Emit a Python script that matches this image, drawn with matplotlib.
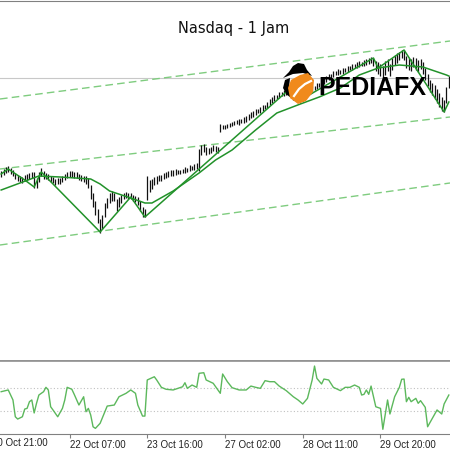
import numpy as np
import matplotlib.pyplot as plt
from matplotlib.patches import Polygon
from matplotlib.lines import Line2D

# hourly bars, index 0..190
high = [11558, 11562, 11566, 11568, 11564, 11560, 11554, 11550, 11548, 11546,
        11550, 11552, 11554, 11556, 11556, 11544, 11556, 11564, 11558, 11554,
        11552, 11548, 11546, 11542, 11544, 11544, 11548, 11552, 11556, 11558,
        11558, 11556, 11556, 11552, 11550, 11548, 11548, 11544, 11530, 11514,
        11498, 11482, 11462, 11470, 11494, 11504, 11514, 11518, 11514, 11502,
        11506, 11510, 11514, 11516, 11514, 11514, 11510, 11508, 11506, 11498,
        11486, 11482, 11548, 11540, 11542, 11546, 11548, 11550, 11550, 11554,
        11556, 11558, 11560, 11560, 11562, 11560, 11560, 11562, 11566, 11564,
        11570, 11568, 11572, 11574, 11602, 11610, 11612, 11606, 11604, 11606,
        11610, 11608, 11606, 11652, 11650, 11650, 11652, 11654, 11656, 11658,
        11660, 11662, 11662, 11666, 11668, 11672, 11676, 11678, 11682, 11682,
        11686, 11690, 11690, 11696, 11702, 11706, 11710, 11710, 11716, 11716,
        11720, 11722, 11720, 11716, 11712, 11710, 11708, 11706, 11710, 11714,
        11720, 11724, 11728, 11728, 11734, 11734, 11740, 11744, 11748, 11752,
        11752, 11758, 11758, 11762, 11760, 11764, 11764, 11768, 11768, 11772,
        11772, 11776, 11778, 11776, 11780, 11782, 11784, 11786, 11784, 11778,
        11776, 11772, 11768, 11778, 11782, 11772, 11784, 11790, 11794, 11796,
        11800, 11800, 11788, 11784, 11782, 11786, 11784, 11780, 11782, 11776,
        11764, 11752, 11740, 11734, 11730, 11722, 11714, 11706, 11700, 11726, 11748]
low = [11546, 11550, 11554, 11556, 11552, 11548, 11542, 11538, 11536, 11534,
       11538, 11540, 11542, 11544, 11524, 11524, 11536, 11548, 11542, 11542,
       11540, 11536, 11534, 11530, 11532, 11532, 11536, 11540, 11544, 11546,
       11546, 11544, 11544, 11540, 11538, 11536, 11532, 11524, 11502, 11486,
       11470, 11454, 11434, 11442, 11466, 11484, 11494, 11498, 11498, 11478,
       11486, 11494, 11502, 11504, 11502, 11502, 11498, 11496, 11490, 11478,
       11466, 11466, 11500, 11516, 11522, 11530, 11532, 11538, 11538, 11542,
       11544, 11546, 11548, 11548, 11550, 11552, 11552, 11554, 11554, 11556,
       11558, 11560, 11560, 11562, 11558, 11590, 11596, 11590, 11592, 11594,
       11598, 11596, 11594, 11636, 11642, 11642, 11644, 11646, 11648, 11650,
       11652, 11650, 11654, 11654, 11656, 11660, 11664, 11666, 11670, 11674,
       11674, 11678, 11682, 11684, 11690, 11694, 11698, 11702, 11704, 11708,
       11708, 11710, 11708, 11704, 11700, 11698, 11696, 11694, 11698, 11702,
       11708, 11712, 11716, 11720, 11722, 11726, 11728, 11732, 11736, 11740,
       11744, 11746, 11750, 11750, 11752, 11752, 11756, 11756, 11760, 11760,
       11764, 11764, 11766, 11768, 11768, 11770, 11772, 11774, 11768, 11758,
       11752, 11748, 11744, 11750, 11758, 11748, 11760, 11770, 11774, 11780,
       11784, 11780, 11764, 11760, 11758, 11766, 11760, 11756, 11762, 11752,
       11740, 11728, 11716, 11710, 11702, 11694, 11686, 11678, 11676, 11694, 11724]
last_price = 11744

# zigzag turning points
zz_bar = [0, 3, 10, 14, 17, 42, 55, 61, 121, 127, 158, 160, 171, 188, 190]
zz_val = [11552, 11562, 11540, 11526, 11556, 11436, 11506, 11466, 11716, 11700,
          11784, 11764, 11800, 11676, 11696]

# moving average
ma_bar = [0, 8, 16, 25, 38, 42, 46, 55, 61, 64, 73, 84, 91, 98, 108, 117, 127,
          135, 144, 152, 160, 169, 179, 189, 190]
ma_val = [11520, 11534, 11548, 11546, 11542, 11532, 11518, 11504, 11494, 11494,
          11518, 11554, 11580, 11600, 11640, 11674, 11692, 11706, 11724, 11750,
          11764, 11770, 11766, 11750, 11748]

# channel trend lines (start / end of chart)
chan_bar = [-0.5, 190.5]
chan_upper = [11702, 11818]
chan_mid = [11562, 11666]
chan_lower = [11410, 11534]

# oscillator (CCI-like)
osc_bar = [0, 3, 5, 6, 7, 9, 10, 11, 12, 13, 14, 15, 16, 18, 19, 20, 21, 22, 24, 26,
           27, 28, 30, 31, 33, 35, 36, 37, 38, 39, 40, 42, 45, 48, 50, 53, 55, 57, 58, 60,
           61, 62, 65, 66, 68, 70, 73, 77, 78, 79, 81, 83, 84, 86, 87, 90, 93, 94, 96, 98,
           101, 104, 106, 108, 110, 112, 114, 116, 118, 121, 124, 126, 128, 130, 132, 133,
           134, 136, 137, 139, 141, 144, 146, 148, 150, 152, 153, 154, 155, 156, 157, 159,
           161, 162, 164, 165, 167, 169, 170, 171, 172, 173, 174, 176, 177, 178, 180, 181,
           183, 185, 187, 188, 190]
osc_val = [68, 83, -4, -150, -170, -150, -83, -77, -19, -4, -117, -33, 39, 68, 106, 83, -63, -91, -150, -77,
           -4, 106, 89, 45, -48, 24, -106, -77, -135, -237, -251, -207, -57, -48, 24, 54, 83, 54, -48, -144,
           -144, 170, 198, 170, 106, 89, 83, 111, 146, 97, 126, 106, 228, 233, 170, 141, 54, 222, 155, 103,
           83, 83, 117, 106, 97, 164, 155, 155, 117, 77, 24, -4, -39, 10, 170, 291,
           184, 135, 178, 170, 106, 77, 106, 106, 126, 106, 39, 45, 83, 45, 117, -63,
           -77, -259, -4, -126, 24, 106, 176, 178, -19, 19, -19, 10, -33, -10, -68, -237,
           -164, -91, -126, -39, 39]
osc_levels = [100, -100]

tick_bar = [-4, 29, 62, 95, 128, 161]
tick_text = ['20 Oct 21:00', '22 Oct 07:00', '23 Oct 16:00', '27 Oct 02:00',
             '28 Oct 11:00', '29 Oct 20:00']

bars = np.arange(len(high))

fig = plt.figure(figsize=(4.5, 4.5), dpi=100)
fig.patch.set_facecolor('white')
ax = fig.add_axes([0, 89 / 450, 1, 360 / 450])
ax2 = fig.add_axes([0, 16 / 450, 1, 73 / 450])

# main price window
ax.axhline(last_price, color='#c8c8c8', lw=0.8, zorder=1)
for y in (chan_upper, chan_mid, chan_lower):
    ax.plot(chan_bar, y, color='#7fcc7f', lw=1, ls=(0, (5.5, 3)), zorder=2)
ax.vlines(bars, low, high, color='#111111', lw=0.9, zorder=3)
ax.plot(ma_bar, ma_val, color='#22922a', lw=1.1, zorder=4)
ax.plot(zz_bar, zz_val, color='#22922a', lw=1.1, zorder=4)
ax.set_xlim(-0.5, 190.5)
ax.set_ylim(11178, 11898)
ax.set_xticks([])
ax.set_yticks([])
for s in ('left', 'right'):
    ax.spines[s].set_visible(False)
ax.spines['top'].set_color('#808080')
ax.spines['bottom'].set_color('#909090')
ax.spines['bottom'].set_linewidth(1.2)

# oscillator window
for lv in osc_levels:
    ax2.axhline(lv, color='#c0c0c0', lw=0.8, ls=(0, (1, 2)))
ax2.plot(osc_bar, osc_val, color='#5cb85c', lw=1)
ax2.set_xlim(-0.5, 190.5)
ax2.set_ylim(-300, 335)
ax2.set_yticks([])
ax2.set_xticks(tick_bar[1:])
ax2.set_xticklabels(tick_text[1:], family='Liberation Sans', fontsize=7, ha='left')
ax2.tick_params(axis='x', direction='out', length=3, pad=1, color='#808080',
                labelcolor='#222222')
ax2.text(tick_bar[0], -3.5 / 73, tick_text[0], transform=ax2.get_xaxis_transform(),
         family='Liberation Sans', fontsize=7, ha='left', va='top', color='#222222')
for s in ('left', 'right'):
    ax2.spines[s].set_visible(False)
ax2.spines['top'].set_color('#909090')
ax2.spines['top'].set_linewidth(1.2)
ax2.spines['bottom'].set_color('#808080')

fig.text(234 / 450, 1 - 29 / 450, 'Nasdaq - 1 Jam', ha='center', va='center',
         fontsize=10.5, color='#111111')


# watermark logo
def px(x, y):
    return (x / 450, 1 - y / 450)


hat = Polygon([px(283, 78), px(289, 72), px(293, 66), px(298, 63), px(304, 64),
               px(307, 70), px(312, 76), px(303, 73), px(293, 74)],
              closed=True, fc='black', ec='none', transform=fig.transFigure, zorder=5)
drop = Polygon([px(285, 80), px(290, 78), px(289, 88), px(292, 98), px(287, 95), px(283, 88)],
               closed=True, fc='black', ec='none', transform=fig.transFigure, zorder=5)
blob = Polygon([px(291, 80), px(300, 75), px(308, 73), px(314, 80), px(313, 92),
                px(306, 101), px(298, 104), px(290, 98), px(288, 88)],
               closed=True, fc='#f08a1c', ec='none', transform=fig.transFigure, zorder=5)
for p in (hat, drop, blob):
    fig.add_artist(p)
sw = list(zip(*[px(294, 96), px(299, 89), px(305, 84), px(311, 81)]))
fig.add_artist(Line2D(sw[0], sw[1], color='white', lw=1.6, transform=fig.transFigure, zorder=6))
fig.text(318 / 450, 1 - 95 / 450, 'PEDIAFX', family='Liberation Sans', fontweight='bold',
         fontsize=18, va='baseline', ha='left', color='black', zorder=6)

fig.savefig('out.png', dpi=100)
